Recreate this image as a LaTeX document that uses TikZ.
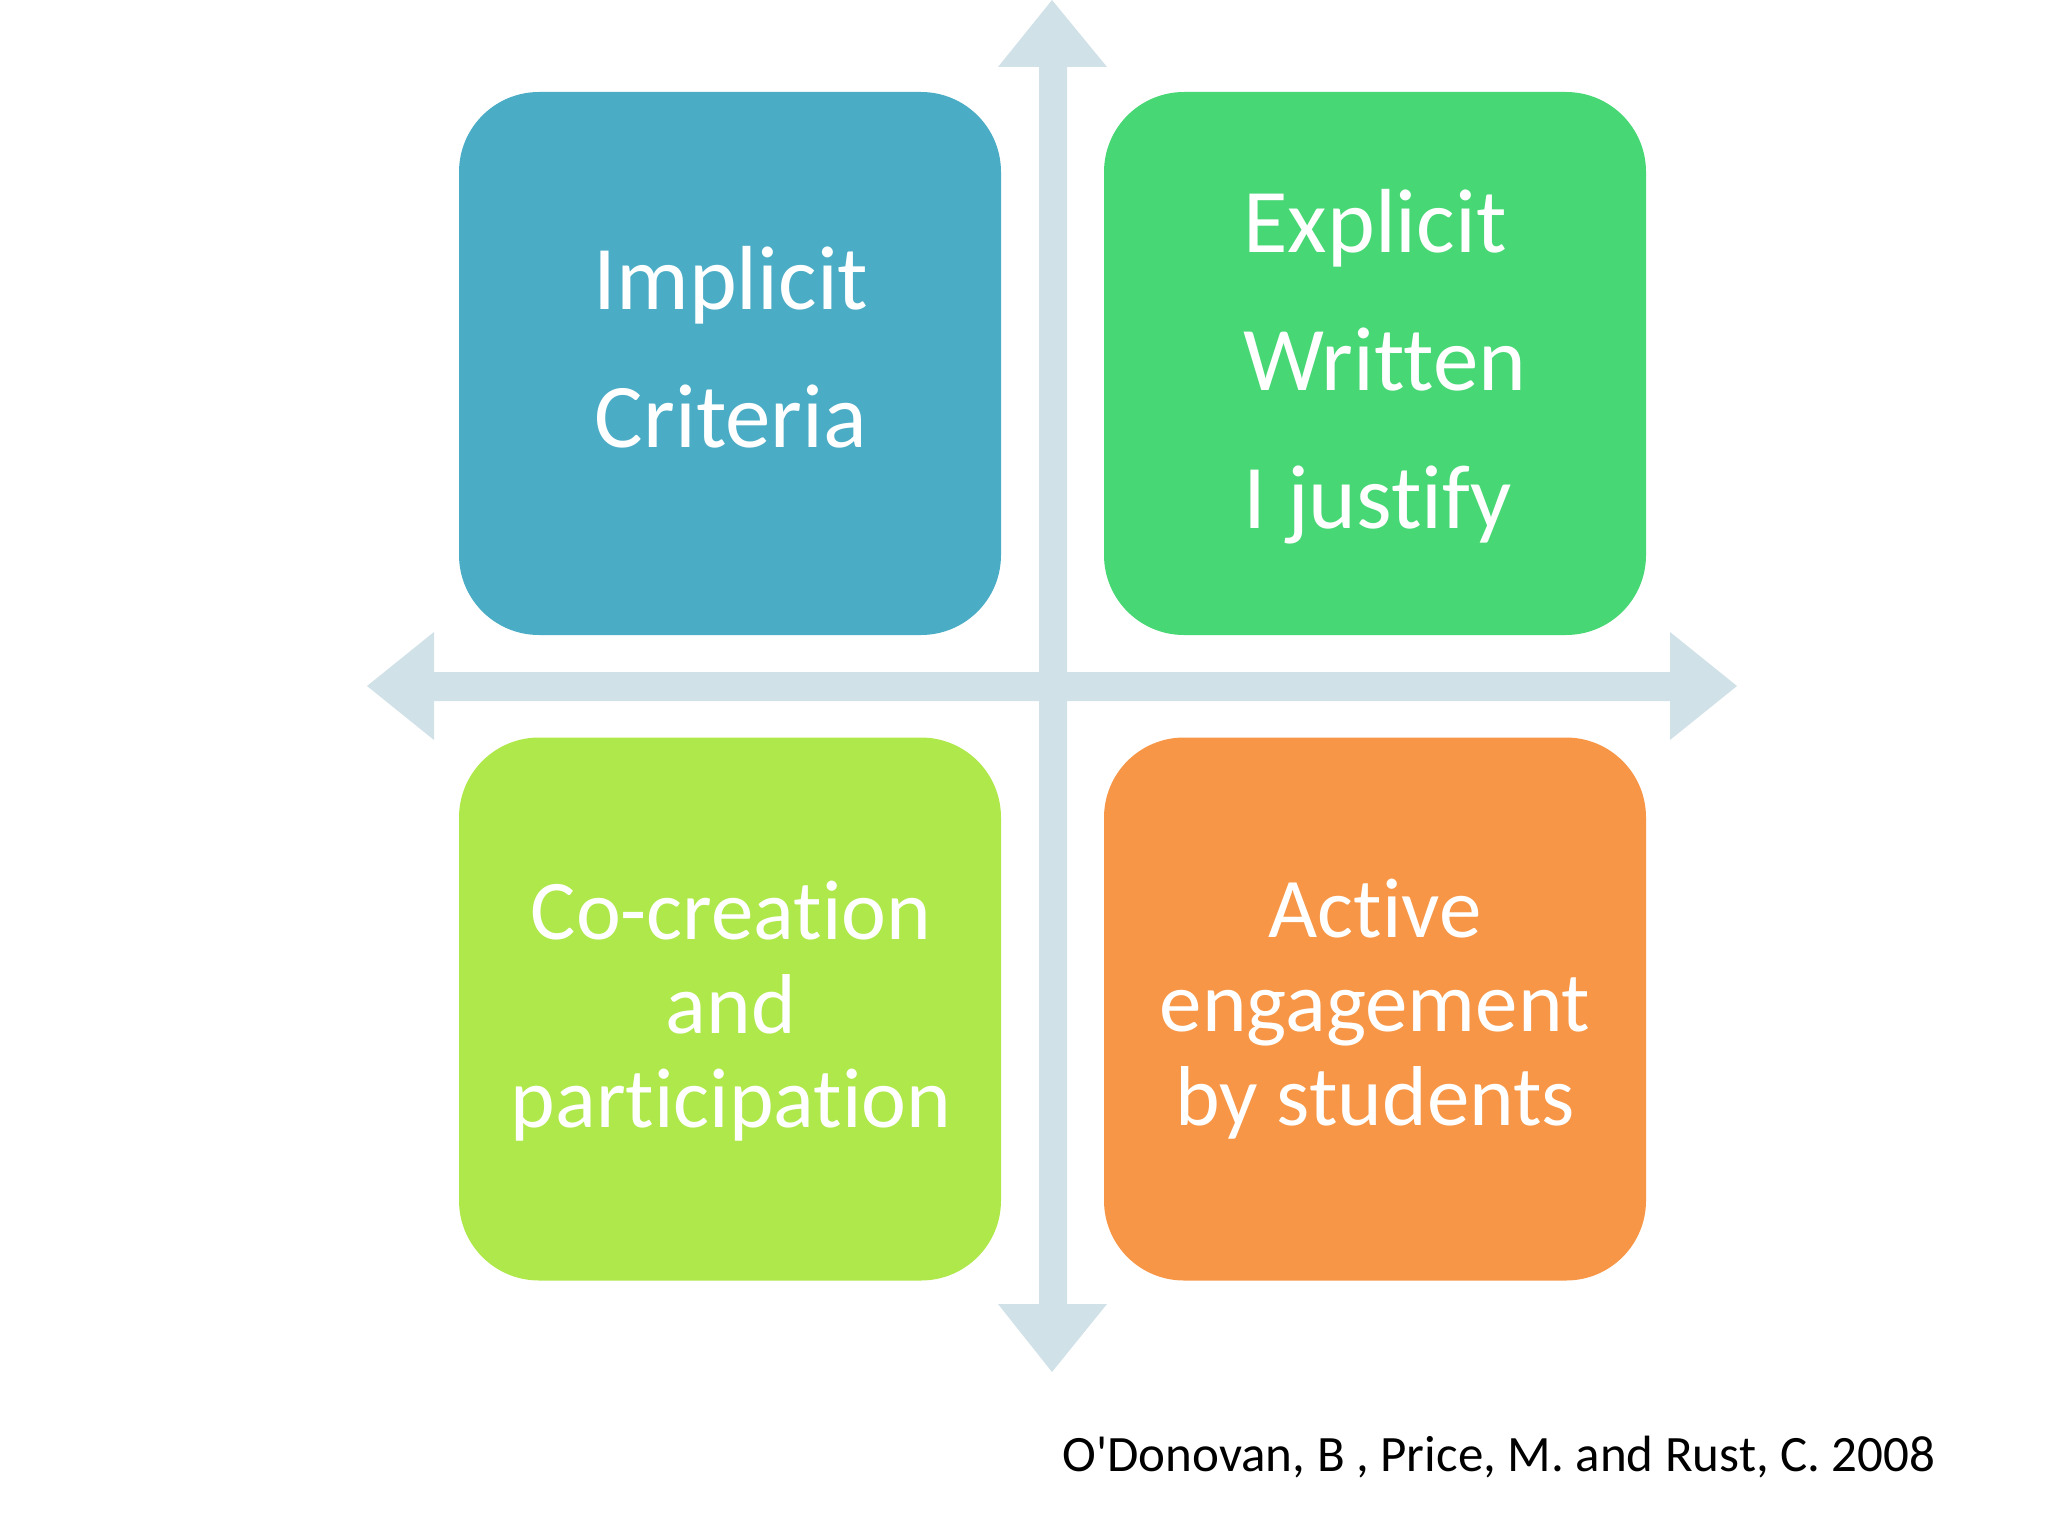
\documentclass[tikz,border=0pt]{standalone}
\usepackage{fontspec}
\setmainfont{Carlito}[Ligatures=NoCommon]
\definecolor{quadblue}{RGB}{75,172,198}
\definecolor{quadgreen}{RGB}{72,215,117}
\definecolor{quadlime}{RGB}{175,232,74}
\definecolor{quadorange}{RGB}{247,150,70}
\definecolor{axisgray}{RGB}{208,225,232}
\begin{document}
\begin{tikzpicture}[
    x=1pt, y=-1pt,
    quad/.style={rounded corners=80pt, minimum width=542pt, minimum height=543pt, inner sep=0pt},
    bigtxt/.style={text=white, font=\fontsize{91}{138}\selectfont, anchor=base},
    smalltxt/.style={text=white, font=\fontsize{85}{94}\selectfont, align=center, anchor=base}
]
\useasboundingbox (0,0) rectangle (2048,1536);

\fill[axisgray] (1052,0) -- (1107,67) -- (1067,67) -- (1067,1304) -- (1107,1304) -- (1052,1372)
  -- (998,1304) -- (1039,1304) -- (1039,67) -- (998,67) -- cycle;
\fill[axisgray] (367,686) -- (434,632) -- (434,672) -- (1670,672) -- (1670,632) -- (1737,686)
  -- (1670,740) -- (1670,701) -- (434,701) -- (434,740) -- cycle;

\node[quad, fill=quadblue] (implicit) at (730,363.5) {};
\node[quad, fill=quadgreen] (explicit) at (1375,363.5) {};
\node[quad, fill=quadlime] (cocreate) at (730,1009) {};
\node[quad, fill=quadorange] (active) at (1375,1009) {};

\node[bigtxt, align=center] (implicittxt) at (731,447) {Implicit\\Criteria};
\node[bigtxt, align=left, anchor=base west] (explicittxt) at (1240,528) {Explicit\\Written\\I justify};
\node[smalltxt] (cocreatetxt) at (731,1127) {Co-creation\\and\\participation};
\node[smalltxt] (activetxt) at (1375,1125) {Active\\engagement\\by students};

\node[anchor=base west, font=\fontsize{51}{60}\selectfont] (source) at (1059,1471)
  {O\textquotesingle Donovan, B , Price, M. and Rust, C. 2008};
\end{tikzpicture}
\end{document}
